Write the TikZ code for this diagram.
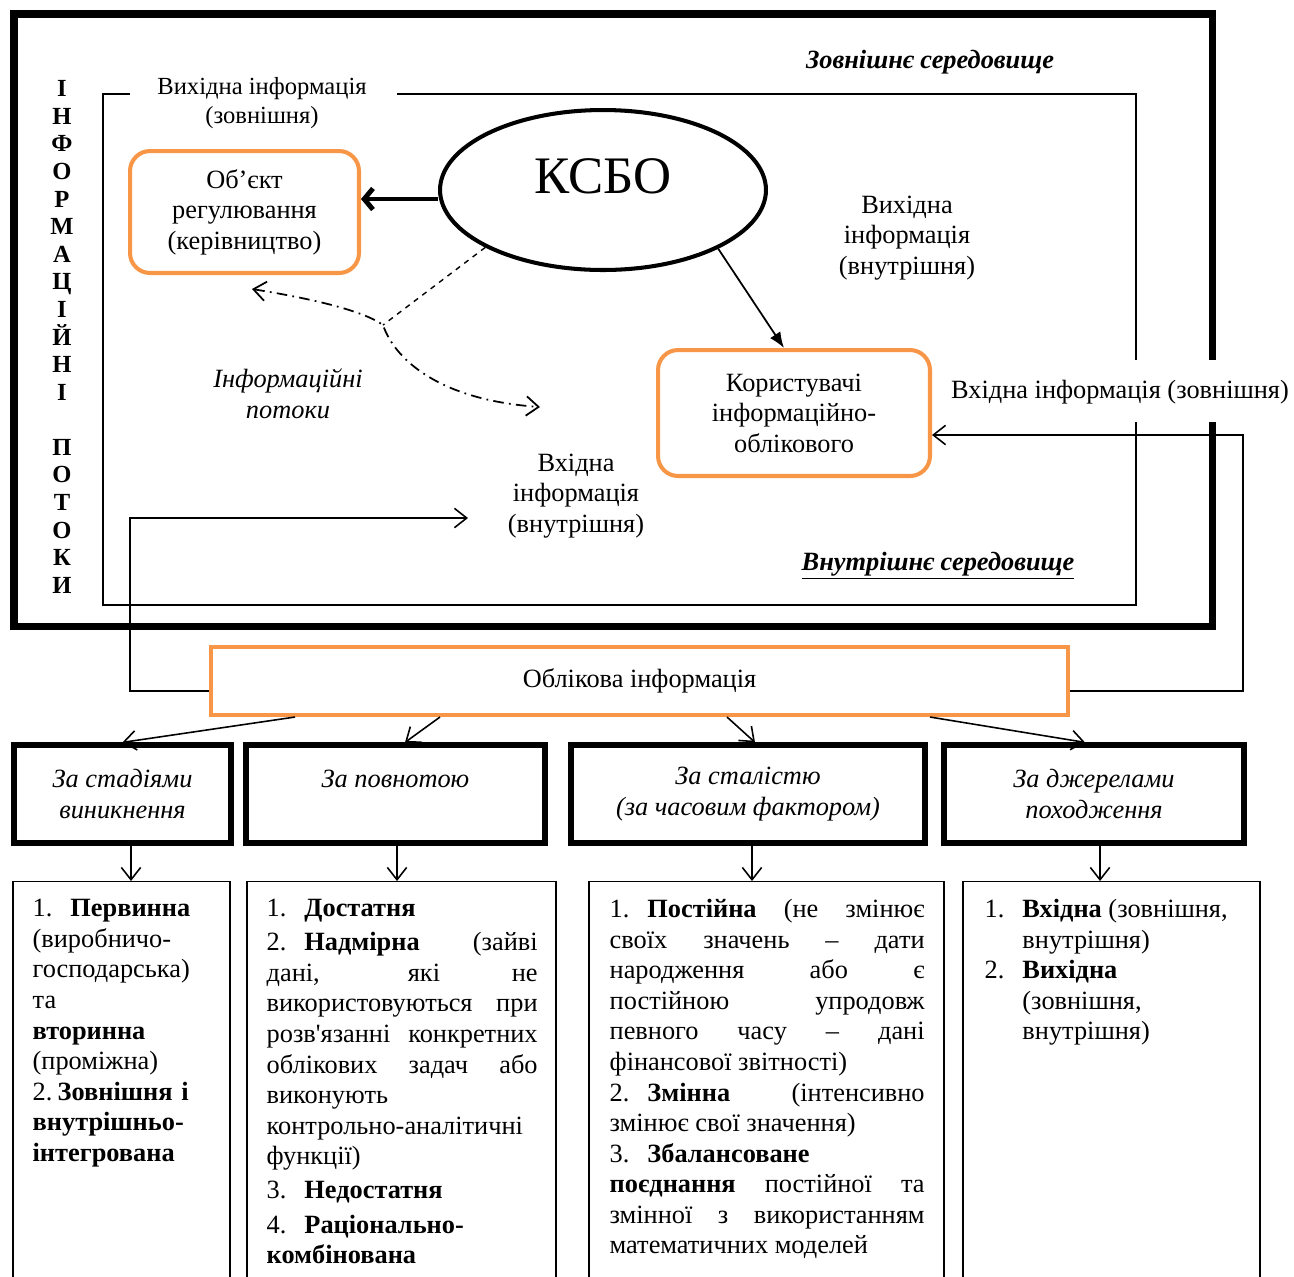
\documentclass[tikz,border=0pt]{standalone}
\usepackage{fontspec}
\setmainfont{Liberation Serif}
\usepackage{tikz}
\usetikzlibrary{calc,shapes.geometric,arrows.meta}

\definecolor{boxorange}{HTML}{F79646}
\newcommand{\bodyfont}{\fontsize{15}{17.4}\selectfont}
\newcommand{\itemno}[1]{\makebox[21.5pt][l]{#1}}

\begin{document}
\begin{tikzpicture}[x=0.02cm, y=-0.02cm,
    >={Straight Barb[length=7pt,width=11pt]},
    every node/.style={font=\bodyfont, inner sep=0pt},
    orangebox/.style={draw=boxorange, line width=2.3pt, align=center},
    catbox/.style={draw, line width=3pt, minimum width=#1, minimum height=1.96cm,
        align=center, font=\bodyfont\itshape},
    listbox/.style={draw, line width=0.8pt, minimum width=#1, minimum height=8.4cm, anchor=north},
    wire/.style={line width=0.9pt},
    flow/.style={line width=1pt, dash pattern=on 6pt off 3pt on 1pt off 3pt}]
        % --- 1. Page and frames ---
        \path[use as bounding box] (0,0) rectangle (1294,1276);
        \def\frameW{4pt}
        \draw[line width=\frameW] (1212,360) -- (1212,14) -- (14,14) -- (14,626) -- (1212,626) -- (1212,422);
        \draw[line width=1pt] (130,94) -- (103,94) -- (103,605) -- (1136,605) -- (1136,422);
        \draw[line width=1pt] (1136,360) -- (1136,94) -- (397,94);

        \node[font=\fontsize{14}{15.7}\selectfont\bfseries, align=center] (sidelbl) at (62,337)
            {І\\Н\\Ф\\О\\Р\\М\\А\\Ц\\І\\Й\\Н\\І\\\mbox{}\\П\\О\\Т\\О\\К\\И};
        \node[font=\bodyfont\bfseries\itshape] (outerlbl) at (930,62) {Зовнішнє середовище};
        \node[font=\bodyfont\bfseries\itshape] (innerlbl) at (938,566) {\underline{Внутрішнє середовище}};
        \node[font=\fontsize{14}{16.4}\selectfont, align=center] (outext) at (262,103) {Вихідна інформація\\(зовнішня)};

        % --- 2. KSBO and its users ---
        \node[ellipse, draw, line width=2.3pt, minimum width=6.52cm, minimum height=3.2cm] (ksbo) at (603,190) {};
        \node[font=\fontsize{30}{36}\selectfont, yshift=0.28cm] (ksbotext) at (ksbo.center) {КСБО};
        \node[orangebox, rounded corners=0.4cm, minimum width=4.58cm, minimum height=2.44cm] (obj) at (244.5,212)
            {Об’єкт\\регулювання\\(керівництво)};
        \node[orangebox, rounded corners=0.4cm, minimum width=5.44cm, minimum height=2.52cm] (users) at (794,413)
            {Користувачі\\інформаційно-\\облікового};
        \node[orangebox, minimum width=17.14cm, minimum height=1.36cm] (oblik) at (639.5,681) {Облікова інформація};

        \node[align=center] (outint) at (907,238) {Вихідна\\інформація\\(внутрішня)};
        \node (inext) at (1120,392) {Вхідна інформація (зовнішня)};
        \node[align=center, font=\bodyfont\itshape] (flowlbl) at (288,394) {Інформаційні\\потоки};
        \node[align=center] (inint) at (576,496) {Вхідна\\інформація\\(внутрішня)};

        % KSBO -> object and users
        \draw[line width=2.8pt, -{Straight Barb[length=5pt,width=12pt]}]
            ([yshift=-0.18cm]ksbo.west) -- ([yshift=-0.18cm]ksbo.west -| obj.east);
        \draw[line width=1pt, -{Latex[length=9pt,width=7pt]}] (ksbo.-27) -- ([xshift=-0.2cm]users.north);

        % information flows
        \coordinate (fork) at (383,325);
        \coordinate (flowL) at (252,289);
        \coordinate (flowR) at (540,407);
        \draw[line width=0.8pt, dashed] (ksbo.206) -- (fork);
        \draw[flow, <->] (flowL) .. controls (320,300) and (365,312) .. (fork)
            .. controls (395,360) and (440,400) .. (flowR);

        % incoming information
        \coordinate (extR) at (1243,435);
        \draw[wire, ->] ([yshift=-0.2cm]oblik.east) -| (extR) -- (extR -| users.east);
        \coordinate (intL) at (130,518);
        \coordinate (intTip) at (468,518);
        \draw[wire, ->] ([yshift=-0.2cm]oblik.west) -| (intL) -- (intTip);

        % --- 3. Classification ---
        \node[catbox=4.34cm] (cat1) at (122.5,794) {За стадіями\\виникнення};
        \node[catbox=5.98cm] (cat2) at (395.5,794) {За повнотою\\\mbox{}};
        \node[catbox=7.08cm] (cat3) at (748,794) {За сталістю\\(за часовим фактором)};
        \node[catbox=6cm] (cat4) at (1094,794) {За джерелами\\походження};

        \draw[wire, ->] ($(oblik.south)+(-344.5,0)$) -- (cat1.north);
        \draw[wire, ->] ($(oblik.south)+(-199.5,0)$) -- ($(cat2.north)+(9.5,0)$);
        \draw[wire, ->] ($(oblik.south)+(87.5,0)$) -- ($(cat3.north)+(7,0)$);
        \draw[wire, ->] ($(oblik.south)+(290.5,0)$) -- ($(cat4.north)+(-9,0)$);

        % --- 4. Lists ---
        \begin{scope}
            \clip (0,0) rectangle (1294,1276);
            \node[listbox=4.34cm] (list1) at (121.5,881) {};
            \node[listbox=6.18cm] (list2) at (401.5,881) {};
            \node[listbox=7.1cm] (list3) at (766.5,881) {};
            \node[listbox=5.94cm] (list4) at (1111.5,881) {};
        \end{scope}

        \draw[wire, ->] ($(cat1.south)+(8.5,0)$) -- ($(cat1.south |- list1.north)+(8.5,0)$);
        \draw[wire, ->] ($(cat2.south)+(1.5,0)$) -- ($(cat2.south |- list2.north)+(1.5,0)$);
        \draw[wire, ->] ($(cat3.south)+(4,0)$) -- ($(cat3.south |- list3.north)+(4,0)$);
        \draw[wire, ->] ($(cat4.south)+(6,0)$) -- ($(cat4.south |- list4.north)+(6,0)$);

        \node[anchor=north west, text width=3.6cm, align=left] (text1) at ($(list1.north west)+(20,18)$)
            {\itemno{1.}\textbf{Первинна}\\(виробничо-\\господарська)\\та\\\textbf{вторинна}\\(проміжна)\\
             2.\hspace{3pt}\textbf{Зовнішня і}\\\textbf{внутрішньо-}\\\textbf{інтегрована}};
        \node[anchor=north west, text width=5.42cm, align=justify] (text2) at ($(list2.north west)+(20,18)$)
            {\setlength{\parskip}{2pt}%
             \itemno{1.}\textbf{Достатня}\par
             \itemno{2.}\textbf{Надмірна} (зайві\linebreak дані, які не\linebreak використовуються при\linebreak
             розв\textquotesingle язанні конкретних\linebreak облікових задач або\linebreak виконують\newline
             контрольно-аналітичні\newline функції)\par
             \itemno{3.}\textbf{Недостатня}\par
             \itemno{4.}\textbf{Раціонально-}\newline\textbf{комбінована}};
        \node[anchor=north west, text width=6.3cm, align=justify] (text3) at ($(list3.north west)+(21,18)$)
            {\itemno{1.}\textbf{Постійна} (не змінює\linebreak своїх значень – дати\linebreak народження або є\linebreak
             постійною упродовж\linebreak певного часу – дані\linebreak фінансової звітності)\par
             \itemno{2.}\textbf{Змінна} (інтенсивно\linebreak змінює свої значення)\par
             \itemno{3.}\textbf{Збалансоване}\newline\textbf{поєднання} постійної та\linebreak
             змінної з використанням\linebreak математичних моделей};
        \node[anchor=north west, align=left] (text4) at ($(list4.north west)+(22,18)$)
            {\itemno{1.}\textbf{Вхідна} (зовнішня,\\\hspace*{21.5pt}внутрішня)\\
             \itemno{2.}\textbf{Вихідна}\\\hspace*{21.5pt}(зовнішня,\\\hspace*{21.5pt}внутрішня)};
    \end{tikzpicture}
\end{document}
